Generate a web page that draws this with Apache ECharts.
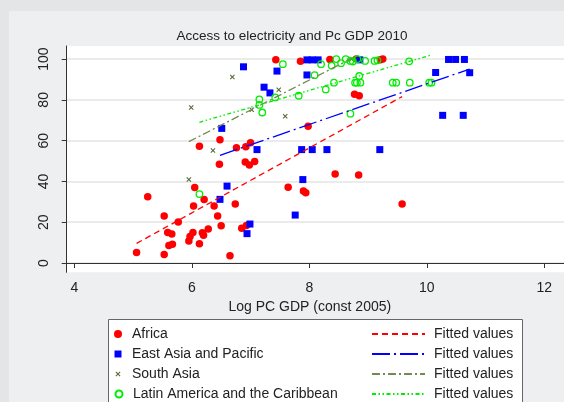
<!DOCTYPE html>
<html><head><meta charset="utf-8">
<script src="https://cdn.jsdelivr.net/npm/echarts@6/dist/echarts.min.js"></script>
<style>html,body{margin:0;padding:0;background:#e4e5e7;}#c{width:564px;height:402px;}</style>
</head><body><div id="c"></div>
<script>
// ---- data ----
const africaGdp  = [5.06,5.25,5.53,5.53,5.59,5.66,5.61,5.67,5.77,6.05,6.21,6.03,6.38,6.44,6.50,6.28,6.18,6.20,6.02,5.97,5.95,6.13,6.47,6.13,6.48,6.65,6.74,6.76,6.85,6.93,6.92,7.00,6.91,6.98,7.07,7.43,7.85,8.35,9.25,9.21,8.80,8.77,8.85,7.98,8.44,8.84,7.64,7.90,7.94,9.58];
const africaElec = [5.2,32.5,23.0,4.2,15.0,14.2,8.6,9.2,20.1,37.0,31.1,28.0,28.0,23.0,18.3,16.7,14.8,13.6,15.0,13.0,10.8,9.4,48.4,57.2,60.4,3.5,28.9,56.5,17.0,18.4,57.0,59.0,49.5,48.0,49.8,99.6,98.9,99.8,100,99.6,100,82.8,82.0,67.0,43.6,43.2,37.2,35.3,34.4,28.9];
const eapGdp  = [6.48,6.51,6.60,6.88,6.94,6.99,7.11,7.23,7.33,7.45,7.76,7.89,7.87,7.96,7.96,8.05,8.15,8.05,8.30,8.86,9.20,10.15,10.27,10.37,10.49,10.64,10.62,10.73];
const eapElec = [31.2,66.0,37.7,96.2,14.4,19.1,55.6,86.2,83.4,94.1,23.5,40.9,55.6,92.2,99.6,99.6,99.6,55.6,55.6,99.6,55.6,93.4,72.4,99.8,99.8,99.8,72.4,93.3];
const saGdp  = [5.95,5.99,6.36,6.69,7.02,7.48,7.59,8.72];
const saElec = [41.0,76.2,55.2,91.2,75.2,85.0,72.0,100];
const lacGdp  = [6.13,7.15,7.15,7.20,7.42,7.55,7.82,8.09,8.20,8.28,8.38,8.42,8.46,8.54,8.62,8.70,8.74,8.70,8.78,8.81,8.87,8.85,8.82,8.95,9.11,9.16,9.42,9.48,9.70,9.71,10.04,10.08];
const lacElec = [33.8,80.2,77.5,73.8,81.2,97.5,82.0,92.1,97.5,85.1,96.8,88.4,100,98.0,100,99.1,98.8,73.2,88.4,88.4,88.4,91.7,100,99.1,99.1,99.4,88.4,88.4,98.9,88.4,88.4,88.4];
// fitted line end points
const africaFitX = [5.06, 9.58], africaFitY = [9.6, 81.6];
const eapFitX = [6.48, 10.73],  eapFitY = [52.8, 95.1];
const saFitX = [5.95, 8.72],    saFitY = [59.5, 100.3];
const lacFitX = [6.13, 10.08],  lacFitY = [69.0, 102.0];
const groupNames = ['Africa','East Asia and Pacific','South Asia','Latin America and the Caribbean'];
const fitNames = ['Fitted values','Fitted values ','Fitted values  ','Fitted values   '];
const xTicks = [4,6,8,10,12];
const yTicks = [0,20,40,60,80,100];
const titleText = 'Access to electricity and Pc GDP 2010';
const xTitle = 'Log PC GDP (const 2005)';

// ---- chart ----
const FONT = '"Liberation Sans", Arial, Helvetica, sans-serif';
const TXT = '#222';
const AX = '#333';
function pairs(xs, ys){ return xs.map((x,i)=>[x, ys[i]]); }
const xSym = 'path://M0,1.5L1.5,0L5,3.5L8.5,0L10,1.5L6.5,5L10,8.5L8.5,10L5,6.5L1.5,10L0,8.5L3.5,5Z';

const chart = echarts.init(document.getElementById('c'), null, {renderer:'canvas'});
const rowY = [333, 353, 373, 393];
const mSize = [8, 7, 5, 7];
const legends = [];
groupNames.forEach((n,i)=>{
  const s = mSize[i];
  legends.push({data:[n], left:118 - s/2, top:rowY[i]-6, padding:0, itemWidth:s, itemHeight:s,
    selectedMode:false, textStyle:{fontSize:14, color:TXT, fontFamily:FONT, padding:[0,0,0,9 - s/2]}});
});
fitNames.forEach((n,i)=>{
  legends.push({data:[n], left:371, top:rowY[i]-6, padding:0, itemWidth:53, itemHeight:2,
    selectedMode:false, formatter:(s)=>s.trim(), itemStyle:{opacity:0, color:'rgba(0,0,0,0)', borderWidth:0},
    textStyle:{fontSize:14, color:TXT, fontFamily:FONT, padding:[0,0,0,4]}});
});

const option = {
  animation:false,
  backgroundColor:'#e4e5e7',
  textStyle:{fontFamily:FONT},
  title:{text:titleText, left:292, top:29, textAlign:'center', padding:0,
    textStyle:{fontSize:13.5, fontWeight:'normal', color:TXT, fontFamily:FONT}},
  graphic:[
    {type:'rect', z:-10, silent:true, shape:{x:9, y:11, width:700, height:500}, style:{fill:'#eeeff1'}},
    {type:'rect', z:-5, silent:true, shape:{x:108.5, y:319.5, width:414, height:120}, style:{fill:'#ffffff', stroke:'#666', lineWidth:1}}
  ],
  grid:{left:66.7, top:46, right:0, bottom:129.7, show:true, backgroundColor:'#ffffff', borderWidth:0},
  legend:legends,
  xAxis:{type:'value', min:3.871, max:12.335,
    name:xTitle, nameLocation:'middle', nameGap:24,
    nameTextStyle:{fontSize:14, color:TXT, fontFamily:FONT, padding:[0,11,0,0]},
    axisLine:{show:true, lineStyle:{color:AX, width:1}},
    axisTick:{show:true, length:5, customValues:xTicks, lineStyle:{color:AX}},
    axisLabel:{customValues:xTicks, margin:9, fontSize:14, color:TXT, fontFamily:FONT},
    splitLine:{show:false}},
  yAxis:{type:'value', min:-4.56, max:106.4,
    axisLine:{show:true, lineStyle:{color:AX, width:1}},
    axisTick:{show:true, length:5, customValues:yTicks, lineStyle:{color:AX}},
    axisLabel:{customValues:yTicks, rotate:90, margin:16, fontSize:14, color:TXT, fontFamily:FONT},
    splitLine:{show:true, customValues:yTicks, lineStyle:{color:'#e4e4e4', width:1.5}}},
  series:[
    {type:'scatter', name:groupNames[0], data:pairs(africaGdp, africaElec), symbol:'circle', symbolSize:7.5,
      itemStyle:{color:'#ff0000', opacity:1}},
    {type:'line', name:fitNames[0], data:pairs(africaFitX, africaFitY), symbol:'none',
      itemStyle:{color:'#ff0000'}, lineStyle:{color:'#ff0000', width:1.3, type:[6,4]}},
    {type:'scatter', name:groupNames[1], data:pairs(eapGdp, eapElec), symbol:'rect', symbolSize:7,
      itemStyle:{color:'#0000ff', opacity:1}},
    {type:'line', name:fitNames[1], data:pairs(eapFitX, eapFitY), symbol:'none',
      itemStyle:{color:'#0000ff'}, lineStyle:{color:'#0000ff', width:1.3, type:[18,4,2,4]}},
    {type:'scatter', name:groupNames[2], data:pairs(saGdp, saElec), symbol:xSym, symbolSize:5,
      itemStyle:{color:'#556b35', opacity:1}},
    {type:'line', name:fitNames[2], data:pairs(saFitX, saFitY), symbol:'none',
      itemStyle:{color:'#6f8b4f'}, lineStyle:{color:'#6f8b4f', width:1.3, type:[8,3,2,3]}},
    {type:'scatter', name:groupNames[3], data:pairs(lacGdp, lacElec), symbol:'circle', symbolSize:6.5,
      itemStyle:{color:'rgba(0,0,0,0)', borderColor:'#00ee00', borderWidth:1.3, opacity:1}},
    {type:'line', name:fitNames[3], data:pairs(lacFitX, lacFitY), symbol:'none',
      itemStyle:{color:'#00ee00'}, lineStyle:{color:'#00ee00', width:1.3, type:[4,2.5,1.5,2.5,1.5,2.5]}}
  ]
};
chart.setOption(option);
</script></body></html>
